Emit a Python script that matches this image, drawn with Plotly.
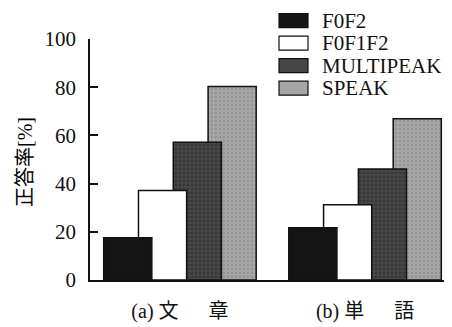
import plotly.graph_objects as go

categories = ["(a) 文\u3000\u2002章", "(b) 単\u3000\u2002語"]
series_names = ["F0F2", "F0F1F2", "MULTIPEAK", "SPEAK"]
f0f2 = [17.5, 21.7]
f0f1f2 = [37.1, 31.2]
multipeak = [57.2, 46.1]
speak = [80.3, 66.9]
values = [f0f2, f0f1f2, multipeak, speak]
colors = ["#141414", "#ffffff", "#474747", "#a6a6a6"]
grain = [None, None, "#2e2e2e", "#8c8c8c"]
y_ticks = [0, 20, 40, 60, 80, 100]
y_title = "正答率[%]"

# page body has an 8px default margin; the figure is shifted accordingly
OFF = 8
W, H = 452 - OFF, 327 - OFF
ML, MR, MT, MB = 90 - OFF, 2, 39 - OFF, 47
PW, PH = W - ML - MR, H - MT - MB

FONT = "Liberation Serif, DejaVu Serif, Noto Sans CJK JP"

fig = go.Figure()
step = 0.188
bw = 0.26
# draw back-to-front so that the first series lies on top
for i in reversed(range(len(series_names))):
    center = (i - 1.5) * step
    marker = dict(color=colors[i], line=dict(color="#111111", width=1.5))
    if grain[i]:
        marker["pattern"] = dict(shape=".", fgcolor=grain[i], bgcolor=colors[i],
                                 size=4, solidity=0.35, fgopacity=0.7)
    fig.add_trace(go.Bar(
        x=categories, y=values[i], name=series_names[i],
        width=bw, offset=center - bw / 2,
        marker=marker, showlegend=False,
    ))

def px_x(p):
    return (p - OFF - ML) / PW

def px_y(p):
    return (H - MB - (p - OFF)) / PH

shapes = []
annotations = []
row0, row_step = 20.7, 22.5
for i, name in enumerate(series_names):
    cy = row0 + i * row_step
    shapes.append(dict(
        type="rect", xref="paper", yref="paper",
        x0=px_x(279), x1=px_x(308), y0=px_y(cy - 7), y1=px_y(cy + 7),
        fillcolor=colors[i], line=dict(color="#111111", width=1.2),
    ))
    annotations.append(dict(
        text=name, xref="paper", yref="paper", x=px_x(320), y=px_y(cy),
        xanchor="left", yanchor="middle", showarrow=False,
        font=dict(family=FONT, size=21, color="#111111"),
    ))

annotations.append(dict(
    text=y_title, xref="paper", yref="paper", x=px_x(25), y=px_y(162),
    xanchor="center", yanchor="middle", textangle=-90, showarrow=False,
    font=dict(family=FONT, size=20, color="#000000"),
))

fig.update_layout(
    width=W, height=H,
    margin=dict(l=ML, r=MR, t=MT, b=MB),
    paper_bgcolor="white", plot_bgcolor="white",
    barmode="overlay",
    showlegend=False,
    shapes=shapes, annotations=annotations,
    font=dict(family=FONT, size=20, color="#111111"),
    xaxis=dict(
        type="category", range=[-0.486, 1.459], automargin=False,
        showline=True, linecolor="#111111", linewidth=1.5,
        ticks="", showgrid=False, zeroline=False,
        tickfont=dict(family=FONT, size=20),
        ticklabelstandoff=12,
    ),
    yaxis=dict(
        range=[0, 100], tickvals=y_ticks, automargin=False,
        showline=True, linecolor="#111111", linewidth=1.5,
        ticks="inside", ticklen=8, tickcolor="#111111", tickwidth=1.5,
        showgrid=False, zeroline=False,
        tickfont=dict(family=FONT, size=21),
        ticklabelstandoff=8,
    ),
)

fig.write_html("out.html")
